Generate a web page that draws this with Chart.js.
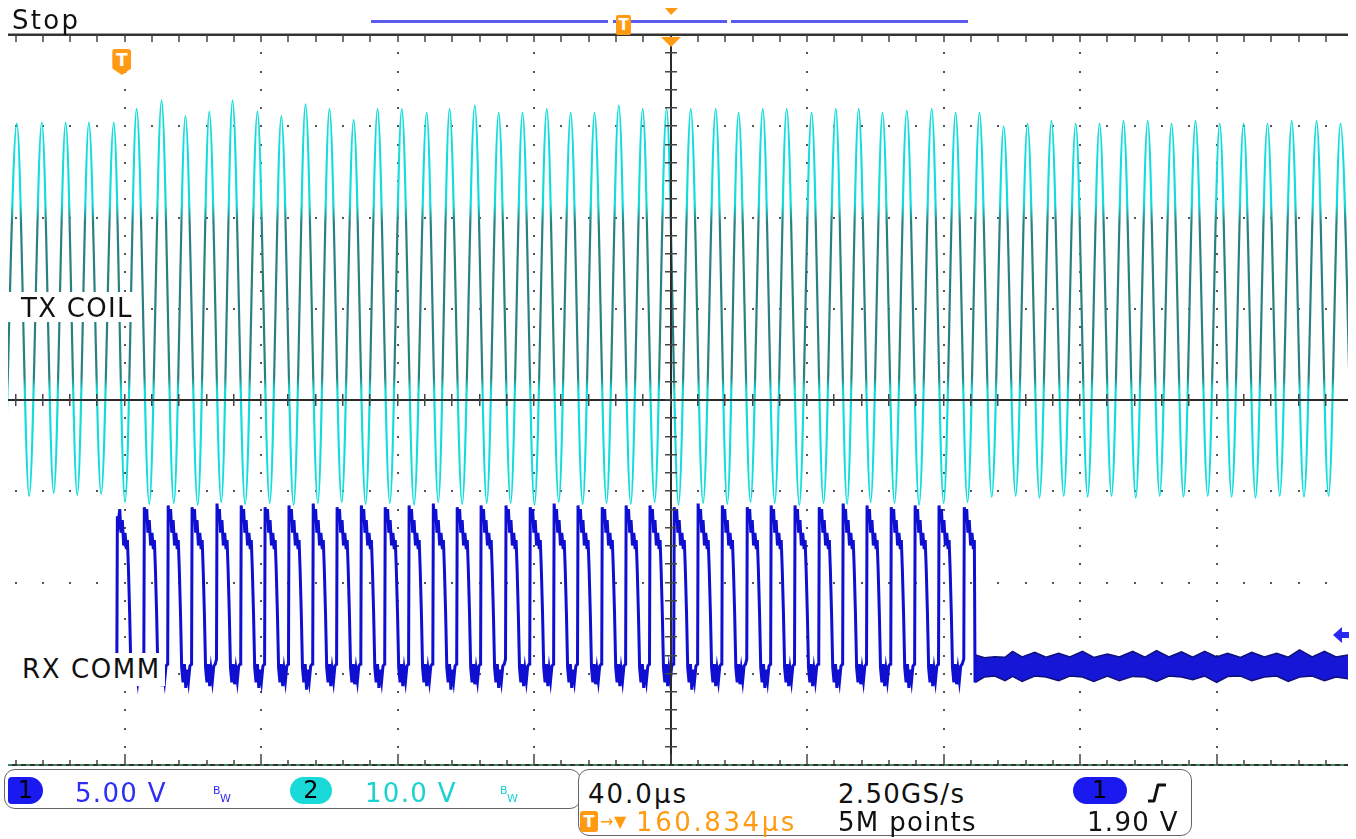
<!DOCTYPE html>
<html><head><meta charset="utf-8">
<script src="https://cdn.jsdelivr.net/npm/chart.js@4.4.0/dist/chart.umd.min.js"></script>
<style>
html,body{margin:0;padding:0;background:#fff;width:1356px;height:839px;overflow:hidden;}
#wrap{position:relative;width:1356px;height:839px;}
#c{position:absolute;left:0;top:0;}
.t{position:absolute;font-family:"DejaVu Sans",sans-serif;font-size:26px;line-height:26px;letter-spacing:1.3px;white-space:nowrap;color:#111;}
.lbl{position:absolute;background:#fff;}
.box{position:absolute;border:1.5px solid #666;border-radius:11px;box-sizing:border-box;background:#fff;}
.pill{position:absolute;font-family:"DejaVu Sans",sans-serif;font-size:24px;line-height:27px;text-align:center;color:#000;}
.bw{position:absolute;font-family:"DejaVu Sans",sans-serif;font-size:11px;line-height:11px;}
.tm{position:absolute;background:#ff9a12;color:#fff;font-family:"DejaVu Sans",sans-serif;font-weight:bold;text-align:center;}
</style></head>
<body><div id="wrap">
<canvas id="c" width="1356" height="839"></canvas>

<div class="t" style="left:12px;top:7px;letter-spacing:2.3px;">Stop</div>

<div class="lbl" style="left:8px;top:292px;width:128px;height:30px;"></div>
<div class="t" style="left:21px;top:295px;">TX COIL</div>
<div class="lbl" style="left:8px;top:653px;width:157px;height:33px;"></div>
<div class="t" style="left:22px;top:656px;letter-spacing:1.6px;">RX COMM</div>

<div id="trigMark" class="tm" style="left:113px;top:49px;width:19px;height:26px;font-size:17px;line-height:22px;clip-path:polygon(0 0,100% 0,100% 75%,50% 100%,0 75%);border-radius:3px 3px 0 0;">T</div>
<div class="tm" style="left:616px;top:15px;width:15px;height:20px;font-size:15px;line-height:20px;border-radius:2px;">T</div>

<!-- left info box -->
<div class="box" style="left:4px;top:769px;width:577px;height:40px;"></div>
<div class="pill" style="left:8px;top:777px;width:35px;height:27px;background:#1a1af0;border-radius:4px 14px 14px 4px;">1</div>
<div class="t" style="left:75px;top:780px;color:#2e2ef5;">5.00 V</div>
<div class="bw" style="left:213px;top:785px;color:#2e2ef5;">B</div>
<div class="bw" style="left:220px;top:793px;color:#2e2ef5;">W</div>
<div class="pill" style="left:290px;top:777px;width:42px;height:27px;background:#1ad9d9;border-radius:14px;">2</div>
<div class="t" style="left:365px;top:780px;color:#19d3d3;">10.0 V</div>
<div class="bw" style="left:500px;top:785px;color:#19d3d3;">B</div>
<div class="bw" style="left:507px;top:793px;color:#19d3d3;">W</div>

<!-- right info box -->
<div class="box" style="left:578px;top:769px;width:614px;height:67px;"></div>
<div class="t" style="left:588px;top:781px;letter-spacing:2px;">40.0µs</div>
<div class="t" style="left:838px;top:781px;">2.50GS/s</div>
<div class="pill" style="left:1073px;top:777px;width:54px;height:27px;background:#1a1af0;border-radius:14px;">1</div>
<svg style="position:absolute;left:1146px;top:780px;" width="24" height="26"><path d="M2 21 L8 21 L12 5 L20 5" stroke="#111" stroke-width="3" fill="none" stroke-linejoin="round"/></svg>
<div class="tm" style="left:580px;top:811px;width:18px;height:21px;font-size:16px;line-height:21px;border-radius:3px;">T</div>
<div class="t" style="left:600px;top:809px;color:#ff9a12;font-size:16px;">→</div>
<div class="t" style="left:614px;top:809px;color:#ff9a12;font-size:16px;">▼</div>
<div class="t" style="left:636px;top:809px;color:#ff9a12;letter-spacing:2.6px;">160.834µs</div>
<div class="t" style="left:838px;top:809px;">5M points</div>
<div class="t" style="left:1087px;top:809px;">1.90 V</div>
</div>

<script>
// ---------------- DATA ----------------
// Horizontal: 40 µs/div, time 0 at the screen centre. Trigger 160.834 µs before centre.
const timePerDivUs = 40;
const triggerDelayUs = 160.834;
// Channel settings
const ch1VoltsPerDiv = 5;   const ch1PositionDiv = -2.575;
const ch2VoltsPerDiv = 10;  const ch2PositionDiv = 1.0;

// TX COIL (channel 2) – peak and trough of each cycle (µs, V)
const txPeakTime = [-191.6,-184.3,-177.3,-170.5,-163.2,-156.5,-149.2,-142.2,-135.2,-128.4,
  -121.1,-114.1,-107.0,-100.0,-92.9,-85.9,-78.8,-71.5,-64.8,-57.4,
  -50.4,-43.4,-36.3,-29.3,-22.3,-15.2,-8.2,-1.2,5.9,13.2,
  19.9,27.0,34.0,41.3,48.4,55.1,62.1,69.2,76.5,83.5,
  90.5,97.6,104.6,111.6,118.7,125.7,132.7,139.8,146.8,153.8,
  160.9,167.9,174.9,182.0,189.3,196.3];
const txPeakVolt = [20.3,20.4,20.4,20.4,20.4,21.9,22.8,21.1,21.6,22.8,
  21.6,21.1,22.4,21.9,20.7,21.9,21.9,21.5,21.9,22.3,
  21.5,21.5,21.9,21.5,21.5,22.3,21.9,21.9,21.9,21.9,
  21.5,21.9,21.9,21.5,21.9,21.9,21.5,21.7,21.9,21.5,
  21.5,20.0,20.3,20.6,20.3,20.3,20.6,20.6,20.3,20.6,
  20.3,20.3,20.3,20.6,20.6,20.3];
const txTroughTime = [-195.2,-188.0,-180.8,-173.9,-166.9,-159.9,-152.8,-145.6,-138.6,-131.7,
  -124.7,-117.5,-110.5,-103.4,-96.4,-89.4,-82.3,-75.2,-68.1,-61.1,
  -53.9,-46.9,-39.9,-32.8,-25.8,-18.8,-11.7,-4.7,2.3,9.5,
  16.6,23.4,30.5,37.7,44.8,51.7,58.6,65.6,72.8,80.0,
  87.0,94.1,101.1,108.1,115.2,122.2,129.2,136.3,143.3,150.3,
  157.4,164.4,171.4,178.5,185.6,192.8,199.8];
const txTroughVolt = [-20.3,-20.5,-20.2,-20.4,-20.3,-21.2,-21.4,-21.3,-21.5,-21.2,
  -21.4,-21.3,-21.5,-21.3,-21.2,-21.4,-21.3,-21.5,-21.2,-21.4,
  -21.3,-21.3,-21.5,-21.2,-21.4,-21.3,-21.4,-21.2,-21.5,-21.3,
  -21.4,-21.2,-21.3,-21.5,-21.3,-21.4,-21.2,-21.3,-21.5,-21.3,
  -21.2,-20.6,-20.5,-20.7,-20.5,-20.6,-20.5,-20.7,-20.5,-20.6,
  -20.5,-20.6,-20.7,-20.5,-20.6,-20.5,-20.6];

// RX COMM (channel 1) – rising edge time, top and bottom level of each pulse
const rxRiseTime = [-162.3,-154.4,-147.4,-140.4,-133.1,-126.0,-119.0,-112.0,-104.9,-97.9,
  -90.8,-83.8,-76.8,-69.7,-62.7,-55.7,-48.4,-41.3,-34.3,-27.3,
  -20.2,-13.2,-6.2,0.9,7.9,15.0,22.3,29.3,36.3,43.4,
  50.4,57.4,64.5,71.5,78.5,85.9];
const rxHighVolt = [6.5,7.0,7.1,7.0,7.2,7.1,7.0,7.1,7.2,7.0,
  7.1,7.0,7.1,7.2,7.0,7.1,7.1,7.0,7.2,7.1,
  7.0,7.1,7.1,7.0,7.2,7.1,7.0,7.1,7.1,7.0,
  7.2,7.1,7.0,7.1,7.1,7.0];
const rxLowVolt = [-2.6,-2.8,-2.9,-2.8,-2.7,-2.9,-2.8,-3.0,-2.8,-2.7,
  -2.9,-2.8,-2.8,-3.0,-2.7,-2.9,-2.8,-2.8,-2.9,-2.7,
  -2.8,-2.9,-2.8,-3.0,-2.8,-2.7,-2.9,-2.8,-2.8,-2.9,
  -2.7,-2.8,-2.9,-2.8,-2.7,-2.8];
// one pulse read from a zoomed cycle: offsets after the rising edge (µs) and levels (V)
const rxPulseOffset = [0,0.15,0.45,0.85,1.2,1.6,2.0,2.4,2.8,3.1,3.4,3.75,4.1,4.5,4.9,5.3,5.7,6.1,6.5,6.95];
const rxPulseVolt   = [-1.32,7.1,6.2,6.9,5.6,6.3,4.9,5.6,4.7,5.2,3.6,1.2,-1.8,-2.6,-1.6,-2.8,-1.9,-2.5,-1.7,-1.59];
const rxPulseHighIdx = 1, rxPulseLowIdx = 15;
const rxBurstEndTime = 89.2;
// noise band after the burst (upper / lower envelope)
const rxNoiseTime = [89.3,92,95,98,100.2,103,106.7,110,113.7,117,120.7,124,128,131.5,135.4,139,142.4,
  146,149.7,153,156.5,160,163.2,167,170.3,174,177.6,181,184.3,188,191.6,195,198.5];
const rxNoiseUpper = [-1.1,-1.25,-1.2,-1.22,-0.9,-1.2,-0.95,-1.22,-1.0,-1.2,-0.9,-1.23,-1.05,-1.2,-0.9,-1.22,-0.85,
  -1.2,-0.92,-1.22,-0.9,-1.2,-1.0,-1.23,-0.95,-1.2,-1.0,-1.22,-0.82,-1.2,-0.9,-1.2,-1.1];
const rxNoiseLower = [-2.6,-2.3,-2.25,-2.5,-2.27,-2.55,-2.25,-2.3,-2.5,-2.25,-2.3,-2.55,-2.25,-2.5,-2.27,-2.3,-2.55,
  -2.25,-2.3,-2.45,-2.25,-2.6,-2.28,-2.25,-2.5,-2.3,-2.25,-2.55,-2.3,-2.25,-2.5,-2.3,-2.4];

// ---------------- build datasets ----------------
const txData = [];
txPeakTime.forEach((t,i)=>txData.push({x:t,y:txPeakVolt[i]}));
txTroughTime.forEach((t,i)=>txData.push({x:t,y:txTroughVolt[i]}));
txData.sort((a,b)=>a.x-b.x);

const rxData = [];
rxRiseTime.forEach((r,i)=>{
  rxPulseOffset.forEach((o,k)=>{
    const t = r + o;
    if (t > rxBurstEndTime) return;
    let v = rxPulseVolt[k];
    if (k===rxPulseHighIdx) v = rxHighVolt[i];
    if (k===rxPulseLowIdx) v = rxLowVolt[i];
    rxData.push({x:t,y:v});
  });
});
rxData.push({x:rxBurstEndTime, y:rxNoiseLower[0]});
const noiseUp = rxNoiseTime.map((t,i)=>({x:t,y:rxNoiseUpper[i]}));
const noiseLo = rxNoiseTime.map((t,i)=>({x:t,y:rxNoiseLower[i]}));

const DIVS_V = 4;
const xMin = -194.2, xMax = 198.5;

function txColor(ctx){
  const ch = ctx.chart, a = ch.chartArea;
  if (!a) return '#1fd8d8';
  const y2 = ch.scales.y2;
  const g = ch.ctx.createLinearGradient(0,a.top,0,a.bottom);
  const f = v => Math.min(1,Math.max(0,(y2.getPixelForValue(v)-a.top)/(a.bottom-a.top)));
  g.addColorStop(0,'#12dcdc');
  g.addColorStop(f(11.5),'#12dcdc');
  g.addColorStop(f(9.5),'#2a8080');
  g.addColorStop(f(-7.5),'#2a8080');
  g.addColorStop(f(-9.0),'#12dcdc');
  g.addColorStop(1,'#12dcdc');
  return g;
}

function minorTimes(){
  const out=[];
  for (let k=-25; k<=25; k++){ const t=k*timePerDivUs/5; if (t>=xMin && t<=xMax) out.push({t, major:k%5===0}); }
  return out;
}

const graticule = {
  id:'graticule',
  beforeDatasetsDraw(chart){
    const {ctx, scales} = chart;
    const x = scales.x, g = scales.yg;
    ctx.save();
    ctx.fillStyle = '#555';
    const mins = minorTimes();
    mins.filter(m=>m.major && m.t!==0).forEach(m=>{
      const px = Math.round(x.getPixelForValue(m.t));
      for (let k=-20; k<=20; k++){
        const py = Math.round(g.getPixelForValue(k/5));
        ctx.fillRect(px-1,py-1,2,2);
      }
    });
    for (let d=-3; d<=3; d++){
      if (d===0) continue;
      const py = Math.round(g.getPixelForValue(d));
      mins.forEach(m=>{ const px=Math.round(x.getPixelForValue(m.t)); ctx.fillRect(px-1,py-1,2,2); });
    }
    ctx.restore();
  },
  afterDatasetsDraw(chart){
    const {ctx, chartArea:a, scales} = chart;
    const x = scales.x, g = scales.yg, y1 = scales.y1;
    ctx.save();
    const cx = Math.round(x.getPixelForValue(0)), cy = Math.round(g.getPixelForValue(0));
    const mins = minorTimes();
    ctx.fillStyle = '#2a2a2a';
    ctx.fillRect(a.left, cy-1, a.right-a.left, 2);
    ctx.fillRect(cx-1, a.top, 2, a.bottom-a.top);
    ctx.fillStyle = '#444';
    mins.forEach(m=>{ const px=Math.round(x.getPixelForValue(m.t)); ctx.fillRect(px-1, cy-6, 1.5, 12); });
    for (let k=-20; k<=20; k++){
      const py = Math.round(g.getPixelForValue(k/5));
      ctx.fillRect(cx-6, py-1, 12, 1.5);
    }
    // top and bottom borders
    ctx.fillStyle = '#333';
    ctx.fillRect(a.left, a.top-1.5, a.right-a.left, 2.5);
    ctx.fillRect(a.left, a.bottom-1, a.right-a.left, 2);
    ctx.fillStyle = '#3a8a5a';
    for (let px=a.left; px<a.right; px+=9) ctx.fillRect(px, a.bottom-1, 4, 2);
    ctx.fillStyle = '#444';
    mins.forEach(m=>{
      const px=Math.round(x.getPixelForValue(m.t));
      ctx.fillRect(px-0.75, a.top, 1.5, 7);
      ctx.fillRect(px-0.75, a.bottom-(m.major?11:5), 1.5, m.major?11:5);
    });
    // expansion point (orange triangle at time 0)
    ctx.fillStyle = '#ff9a12';
    ctx.beginPath(); ctx.moveTo(cx-10,a.top+2); ctx.lineTo(cx+10,a.top+2); ctx.lineTo(cx,a.top+12); ctx.closePath(); ctx.fill();
    ctx.beginPath(); ctx.moveTo(cx-6,8); ctx.lineTo(cx+7,8); ctx.lineTo(cx,15); ctx.closePath(); ctx.fill();
    // record-view bar
    ctx.fillStyle = '#5b5bef';
    ctx.fillRect(371,20,237,3);
    ctx.fillRect(613,20,114,3);
    ctx.fillRect(731,20,237,3);
    // channel 1 ground marker
    const gy = Math.round(y1.getPixelForValue(0));
    ctx.fillStyle = '#2828f0';
    ctx.beginPath(); ctx.moveTo(a.right-15,gy); ctx.lineTo(a.right-6,gy-8); ctx.lineTo(a.right-6,gy+8); ctx.closePath(); ctx.fill();
    ctx.fillRect(a.right-7, gy-3, 8, 6);
    ctx.restore();
  }
};

const chart = new Chart(document.getElementById('c'), {
  type:'line',
  data:{ datasets:[
    {label:'TX COIL', data:txData, yAxisID:'y2', borderColor:txColor, borderWidth:2.2, pointRadius:0, cubicInterpolationMode:'monotone', order:0},
    {label:'RX COMM', data:rxData, yAxisID:'y1', borderColor:'#0f0fd2', borderWidth:3, pointRadius:0, tension:0, order:1},
    {label:'RX noise hi', data:noiseUp, yAxisID:'y1', borderColor:'#10107a', borderWidth:1.5, pointRadius:0, tension:0, fill:false, order:2},
    {label:'RX noise lo', data:noiseLo, yAxisID:'y1', borderColor:'#10107a', borderWidth:1.5, pointRadius:0, tension:0, fill:'-1', backgroundColor:'#1616d6', order:2}
  ]},
  options:{
    responsive:false, animation:false, devicePixelRatio:1,
    layout:{padding:{left:8,right:8,top:35,bottom:74}},
    plugins:{legend:{display:false}, tooltip:{enabled:false}},
    scales:{
      x:{type:'linear', axis:'x', display:false, min:xMin, max:xMax},
      y1:{type:'linear', axis:'y', display:false, min:(-DIVS_V-ch1PositionDiv)*ch1VoltsPerDiv, max:(DIVS_V-ch1PositionDiv)*ch1VoltsPerDiv},
      y2:{type:'linear', axis:'y', display:false, min:(-DIVS_V-ch2PositionDiv)*ch2VoltsPerDiv, max:(DIVS_V-ch2PositionDiv)*ch2VoltsPerDiv},
      yg:{type:'linear', axis:'y', display:false, min:-DIVS_V, max:DIVS_V}
    }
  },
  plugins:[graticule]
});
const tpx = chart.scales.x.getPixelForValue(-triggerDelayUs);
document.getElementById('trigMark').style.left = (tpx-9.5)+'px';
</script>
</body></html>
